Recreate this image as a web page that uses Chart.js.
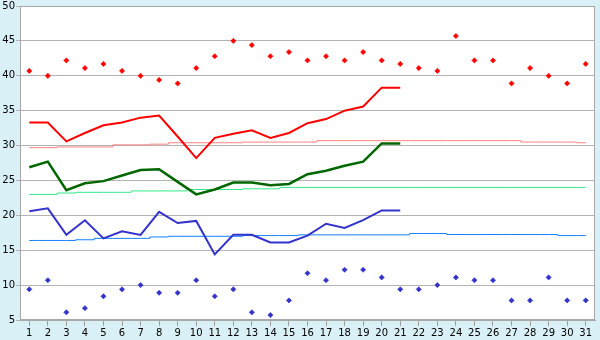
<!DOCTYPE html>
<html>
<head>
<meta charset="utf-8">
<script src="https://cdn.jsdelivr.net/npm/chart.js@4"></script>
<style>
html,body{margin:0;padding:0;background:#daf0f7;}
canvas{display:block;}
</style>
</head>
<body>
<canvas id="c" width="600" height="340"></canvas>
<script>
const days = ["1","2","3","4","5","6","7","8","9","10","11","12","13","14","15","16","17","18","19","20","21","22","23","24","25","26","27","28","29","30","31"];
const dailyMax = [40.7,40.0,42.2,41.1,41.7,40.7,40.0,39.4,38.9,41.1,42.8,45.0,44.4,42.8,43.4,42.2,42.8,42.2,43.4,42.2,41.7,41.1,40.7,45.7,42.2,42.2,38.9,41.1,40.0,38.9,41.7];
const dailyMin = [9.4,10.7,6.1,6.7,8.4,9.4,10.0,8.9,8.9,10.7,8.4,9.4,6.1,5.7,7.8,11.7,10.7,12.2,12.2,11.1,9.4,9.4,10.0,11.1,10.7,10.7,7.8,7.8,11.1,7.8,7.8];
const runMax = [33.3,33.3,30.6,31.8,32.9,33.3,34.0,34.3,31.3,28.2,31.1,31.7,32.2,31.1,31.8,33.2,33.8,35.0,35.6,38.3,38.3];
const runMean = [26.9,27.7,23.6,24.6,24.9,25.7,26.5,26.6,24.8,23.0,23.7,24.7,24.7,24.3,24.5,25.9,26.4,27.1,27.7,30.3,30.3];
const runMin = [20.6,21.0,17.2,19.3,16.7,17.7,17.2,20.5,18.9,19.2,14.4,17.2,17.2,16.1,16.1,17.1,18.8,18.2,19.3,20.7,20.7];
const normMax = [29.7,29.7,29.8,29.8,29.8,30.1,30.1,30.2,30.4,30.4,30.4,30.4,30.5,30.5,30.5,30.5,30.7,30.7,30.7,30.7,30.7,30.7,30.7,30.7,30.7,30.7,30.7,30.5,30.5,30.5,30.4];
const normMean = [23.0,23.0,23.2,23.3,23.3,23.3,23.5,23.5,23.5,23.7,23.7,23.7,23.8,23.8,24.0,24.0,24.0,24.0,24.0,24.0,24.0,24.0,24.0,24.0,24.0,24.0,24.0,24.0,24.0,24.0,24.0];
const normMin = [16.4,16.4,16.4,16.5,16.7,16.7,16.7,16.9,17.0,17.0,17.0,17.0,17.1,17.1,17.1,17.2,17.2,17.2,17.2,17.2,17.2,17.4,17.4,17.25,17.25,17.25,17.25,17.25,17.25,17.1,17.1];
const yTicks = [5,10,15,20,25,30,35,40,45,50];

const bgPlugin = {
  id: 'bg',
  beforeDraw(chart) {
    const ctx = chart.ctx, a = chart.chartArea;
    ctx.save();
    ctx.fillStyle = '#daf0f7';
    ctx.fillRect(0, 0, chart.width, chart.height);
    ctx.fillStyle = '#ffffff';
    ctx.fillRect(a.left, a.top, a.right - a.left, a.bottom - a.top);
    ctx.restore();
  },
  afterDraw(chart) {
    const ctx = chart.ctx, a = chart.chartArea;
    ctx.save();
    ctx.strokeStyle = '#a8a8a8';
    ctx.lineWidth = 1;
    ctx.strokeRect(Math.round(a.left) + 0.5, Math.round(a.top) + 0.5, Math.round(a.right - a.left) - 1, Math.round(a.bottom - a.top) - 1);
    ctx.restore();
  }
};

const font = {family: 'DejaVu Sans', size: 10, lineHeight: 1};

new Chart(document.getElementById('c'), {
  type: 'line',
  data: {
    labels: days,
    datasets: [
      {data: dailyMax, showLine: false, pointStyle: 'rectRot', pointRadius: 2.6, backgroundColor: '#ff0000', borderColor: '#ff0000', borderWidth: 0.6},
      {data: dailyMin, showLine: false, pointStyle: 'rectRot', pointRadius: 2.6, backgroundColor: '#3333cc', borderColor: '#3333cc', borderWidth: 0.6},
      {data: runMax, borderColor: '#ff0000', borderWidth: 2, pointRadius: 0, tension: 0},
      {data: runMean, borderColor: '#006600', borderWidth: 2.5, pointRadius: 0, tension: 0},
      {data: runMin, borderColor: '#3333cc', borderWidth: 2, pointRadius: 0, tension: 0},
      {data: normMax, borderColor: '#ff8080', borderWidth: 1, pointRadius: 0, stepped: 'middle'},
      {data: normMean, borderColor: '#30e88a', borderWidth: 1, pointRadius: 0, stepped: 'middle'},
      {data: normMin, borderColor: '#1080ff', borderWidth: 1, pointRadius: 0, stepped: 'middle'}
    ]
  },
  options: {
    responsive: false,
    animation: false,
    layout: {padding: {top: 5, right: 5, left: 0, bottom: 0}},
    plugins: {legend: {display: false}, tooltip: {enabled: false}},
    scales: {
      x: {
        offset: true,
        grid: {display: true, drawOnChartArea: false, drawTicks: true, tickLength: 6, color: '#a0a0a0', offset: false},
        border: {display: true, color: '#a8a8a8'},
        ticks: {font: font, color: '#000', padding: 2, maxRotation: 0, autoSkip: false},
        afterFit(s) { s.height = 20; }
      },
      y: {
        min: 5, max: 50,
        afterBuildTicks(s) { s.ticks = yTicks.map(v => ({value: v})); },
        grid: {color: '#b4b4b4', tickLength: 4, drawTicks: true},
        border: {display: true, color: '#a8a8a8'},
        ticks: {font: font, color: '#000', padding: 1},
        afterFit(s) { s.width = 20; }
      }
    }
  },
  plugins: [bgPlugin]
});
</script>
</body>
</html>
